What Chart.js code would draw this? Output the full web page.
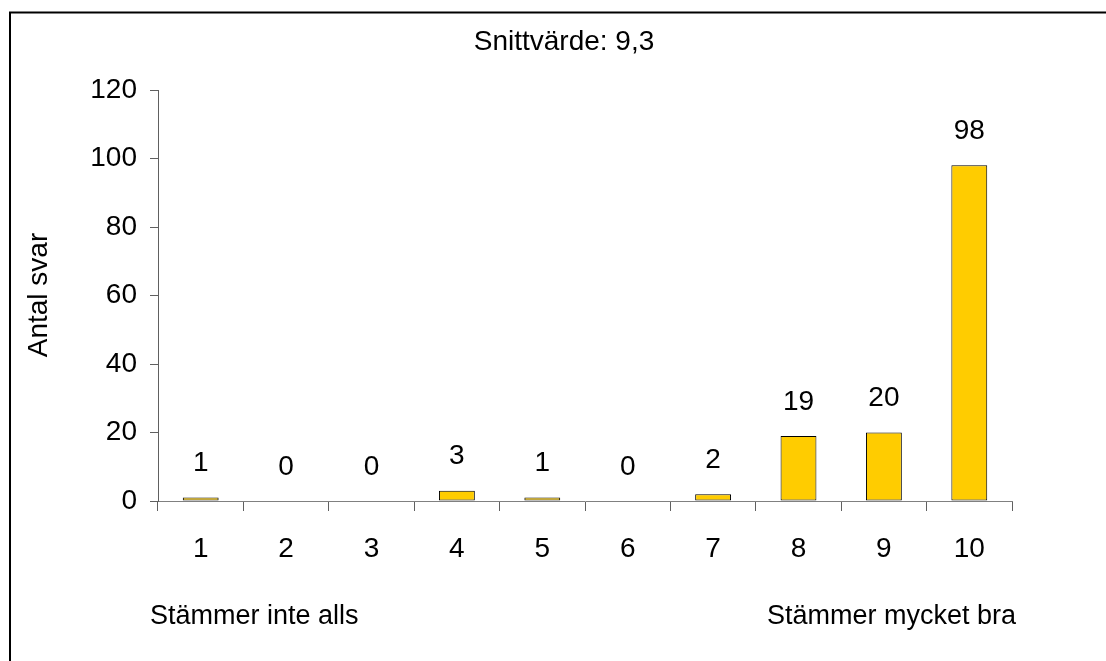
<!DOCTYPE html>
<html>
<head>
<meta charset="utf-8">
<title>Snittvärde</title>
<script src="https://cdn.jsdelivr.net/npm/chart.js@4/dist/chart.umd.min.js"></script>
<style>
  html, body { margin: 0; padding: 0; background: #fff; }
  #chart-wrap { width: 1106px; height: 661px; position: relative; overflow: hidden; }
</style>
</head>
<body>
<div id="chart-wrap"><canvas id="survey-chart" width="1106" height="661"></canvas></div>
<script>
// chart data
const categories = ['1', '2', '3', '4', '5', '6', '7', '8', '9', '10'];
const answerCounts = [1, 0, 0, 3, 1, 0, 2, 19, 20, 98];
const yMin = 0;
const yMax = 120;
const yStep = 20;
const chartTitle = 'Snittvärde: 9,3';
const yAxisTitle = 'Antal svar';
const lowEndLabel = 'Stämmer inte alls';
const highEndLabel = 'Stämmer mycket bra';

const FONT = '"Liberation Sans", Arial, sans-serif';

// draws the frame, title, axis title, value labels and scale end texts
const extrasPlugin = {
  id: 'extras',
  afterDraw(chart) {
    const ctx = chart.ctx;
    ctx.save();

    // outer frame (only top and left are inside the picture)
    ctx.strokeStyle = '#000';
    ctx.lineWidth = 2;
    ctx.beginPath();
    ctx.moveTo(10, 700);
    ctx.lineTo(10, 12.5);
    ctx.lineTo(1200, 12.5);
    ctx.stroke();

    ctx.fillStyle = '#000';
    ctx.textAlign = 'center';
    ctx.textBaseline = 'middle';
    ctx.font = '28px ' + FONT;
    ctx.fillText(chartTitle, 564, 42);

    // value labels above bars
    const meta = chart.getDatasetMeta(0);
    meta.data.forEach((bar, i) => {
      ctx.fillText(String(answerCounts[i]), bar.x, bar.y - 34);
    });

    // y axis title
    ctx.save();
    ctx.translate(39, 295);
    ctx.rotate(-Math.PI / 2);
    ctx.fillText(yAxisTitle, 0, 0);
    ctx.restore();

    // scale end texts
    ctx.font = '27px ' + FONT;
    ctx.textAlign = 'left';
    ctx.fillText(lowEndLabel, 150, 617);
    ctx.textAlign = 'right';
    ctx.fillText(highEndLabel, 1016, 617);

    ctx.restore();
  }
};

function renderSurveyChart() {
  const canvas = document.getElementById('survey-chart');
  if (!canvas) return;

  new Chart(canvas.getContext('2d'), {
    type: 'bar',
    data: {
      labels: categories,
      datasets: [{
        data: answerCounts,
        backgroundColor: '#FFCC00',
        borderColor: '#000',
        borderWidth: (c) => (c.raw === 0 ? 0 : 1),
        borderSkipped: false,
        barPercentage: 0.42,
        categoryPercentage: 1
      }]
    },
    options: {
      responsive: false,
      animation: false,
      devicePixelRatio: 1,
      layout: { padding: { left: 0, top: 90, right: 94, bottom: 0 } },
      plugins: {
        legend: { display: false },
        title: { display: false },
        tooltip: { enabled: false }
      },
      scales: {
        x: {
          afterFit: (scale) => { scale.height = 160; },
          grid: {
            offset: true,
            drawOnChartArea: false,
            tickLength: 10,
            tickColor: '#606060',
            tickWidth: 1
          },
          border: { color: '#808080', width: 1 },
          ticks: {
            color: '#000',
            padding: 21,
            font: { family: FONT, size: 28 }
          }
        },
        y: {
          min: yMin,
          max: yMax,
          afterFit: (scale) => { scale.width = 158; },
          grid: {
            drawOnChartArea: false,
            tickLength: 8,
            tickColor: '#606060',
            tickWidth: 1
          },
          border: { color: '#606060', width: 1 },
          ticks: {
            stepSize: yStep,
            color: '#000',
            padding: 13,
            font: { family: FONT, size: 28 }
          }
        }
      }
    },
    plugins: [extrasPlugin]
  });
}

document.addEventListener('DOMContentLoaded', function() {
  renderSurveyChart();
});
</script>
</body>
</html>
